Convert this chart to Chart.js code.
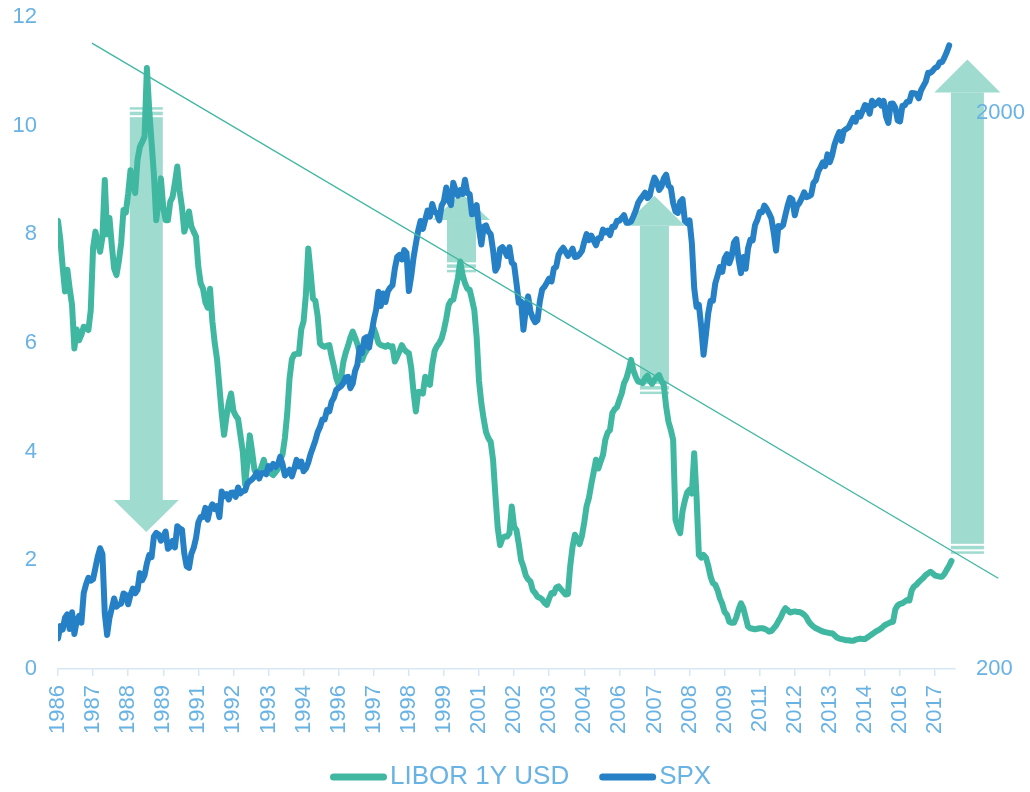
<!DOCTYPE html>
<html lang="en">
<head>
<meta charset="UTF-8">
<title>LIBOR 1Y USD vs SPX</title>
<style>
    html, body { margin: 0; padding: 0; background: #ffffff; }
    #wrap { width: 1030px; height: 792px; }
</style>
<script src="https://cdn.jsdelivr.net/npm/chart.js@4"></script>
</head>
<body>
<div id="wrap"><canvas id="chart" width="1030" height="792"></canvas></div>
<script>
// x axis: one step = one month, a label every 15 months
const tickYears = ['1986', '1987', '1988', '1989', '1991', '1992', '1993', '1994', '1996', '1997',
    '1998', '1999', '2001', '2002', '2003', '2004', '2006', '2007', '2008', '2009',
    '2011', '2012', '2013', '2014', '2016', '2017'];
const tickStep = 15;
const seriesNames = ['LIBOR 1Y USD', 'SPX'];

// LIBOR 1Y USD, %, monthly (left axis)
const liborValues = [
    8.25, 7.9, 7.4, 6.95, 7.35, 7.0, 6.7, 5.9, 6.25, 6.05, 6.15, 6.3,
    6.28, 6.24, 6.6, 7.75, 8.05, 7.85, 7.68, 7.95, 9.0, 8.0, 8.3, 7.8,
    7.37, 7.25, 7.5, 7.84, 8.45, 8.4, 8.75, 9.18, 8.94, 8.76, 9.37, 9.61,
    9.7, 9.8, 11.06, 10.29, 9.7, 9.1, 8.26, 8.6, 9.03, 8.5, 8.26, 8.26,
    8.6, 8.69, 8.95, 9.25, 8.8, 8.5, 8.05, 8.2, 8.42, 8.15, 8.05, 7.96,
    7.4, 7.1, 7.0, 6.75, 6.65, 7.0, 6.4, 6.0, 5.7, 5.2, 4.7, 4.31,
    4.64, 4.9, 5.07, 4.75, 4.66, 4.6, 4.3, 4.0, 3.4, 3.8, 4.3, 4.0,
    3.66, 3.6, 3.62, 3.72, 3.85, 3.66, 3.62, 3.6, 3.57, 3.62, 3.68, 3.85,
    3.95, 4.25, 4.7, 5.35, 5.7, 5.79, 5.8, 5.8, 6.25, 6.4, 6.9, 7.74,
    7.3, 6.82, 6.78, 6.5, 5.99, 5.95, 5.93, 5.95, 5.96, 5.75, 5.56, 5.35,
    5.23, 5.35, 5.65, 5.82, 5.95, 6.1, 6.21, 6.1, 5.98, 5.82, 5.69, 5.8,
    5.87, 6.1, 6.2, 6.27, 6.15, 6.0, 5.96, 5.95, 5.93, 5.96, 5.93, 5.94,
    5.66, 5.75, 5.85, 5.96, 5.88, 5.84, 5.81, 5.55, 5.1, 4.74, 5.1, 5.1,
    5.07, 5.38, 5.26, 5.23, 5.6, 5.85, 5.94, 6.0, 6.08, 6.24, 6.45, 6.7,
    6.78, 6.8, 7.0, 7.2, 7.5, 7.25, 7.1, 7.0, 6.98, 6.8, 6.6, 6.1,
    5.3, 4.89, 4.6, 4.36, 4.25, 4.18, 3.85, 3.2, 2.6, 2.28, 2.4, 2.44,
    2.44, 2.5, 2.99, 2.62, 2.56, 2.3, 2.0, 1.88, 1.72, 1.65, 1.61, 1.45,
    1.4, 1.33, 1.31, 1.28, 1.22, 1.18, 1.3, 1.4, 1.39, 1.5, 1.52, 1.47,
    1.42, 1.37, 1.38, 1.9, 2.25, 2.47, 2.4, 2.3, 2.45, 2.7, 3.0, 3.15,
    3.4, 3.62, 3.85, 3.69, 3.82, 3.94, 4.22, 4.35, 4.4, 4.71, 4.78, 4.82,
    4.95, 5.07, 5.26, 5.35, 5.5, 5.69, 5.5, 5.38, 5.29, 5.28, 5.26, 5.35,
    5.4, 5.3, 5.25, 5.32, 5.37, 5.41, 5.3, 5.23, 4.83, 4.55, 4.4, 4.22,
    2.75, 2.6, 2.5, 2.9, 3.1, 3.25, 3.3, 3.23, 3.97, 3.17, 2.1, 2.05,
    2.1, 2.05, 1.9, 1.7, 1.58, 1.55, 1.45, 1.3, 1.2, 1.05, 1.0, 0.87,
    0.85, 0.85, 0.95, 1.1, 1.21, 1.12, 0.95, 0.78, 0.75, 0.74, 0.73, 0.74,
    0.75, 0.75, 0.74, 0.72, 0.69, 0.7, 0.75, 0.8, 0.88, 0.95, 1.05, 1.12,
    1.08, 1.04, 1.05, 1.06, 1.05, 1.05, 1.03, 1.0, 0.95, 0.87, 0.82, 0.78,
    0.75, 0.73, 0.71, 0.69, 0.68, 0.67, 0.66, 0.66, 0.62, 0.58, 0.56, 0.55,
    0.54, 0.53, 0.53, 0.52, 0.52, 0.54, 0.55, 0.56, 0.55, 0.55, 0.58, 0.61,
    0.64, 0.67, 0.7, 0.72, 0.75, 0.79, 0.82, 0.84, 0.86, 0.87, 1.1, 1.17,
    1.2, 1.21, 1.24, 1.27, 1.26, 1.45, 1.52, 1.55, 1.6, 1.64, 1.68, 1.73,
    1.76, 1.79, 1.76, 1.72, 1.71, 1.7, 1.7, 1.75, 1.83, 1.9, 1.99
];

// SPX, monthly (right log axis)
const spxValues = [
    226.9, 238.9, 235.5, 247.4, 250.8, 236.1, 252.9, 231.3, 244.0, 249.2, 242.2,
    274.1, 284.2, 291.7, 288.4, 290.1, 304.0, 318.7, 329.8, 321.8, 251.8, 230.3, 247.1,
    257.1, 267.8, 258.9, 261.3, 262.2, 273.5, 272.0, 261.5, 271.9, 279.0, 273.7, 277.7,
    297.5, 288.9, 294.9, 309.6, 320.5, 318.0, 346.1, 351.5, 349.2, 340.4, 346.0, 353.4,
    329.1, 331.9, 339.9, 330.8, 361.2, 358.0, 356.2, 322.6, 306.1, 304.0, 322.2, 330.2,
    343.9, 367.1, 375.2, 375.3, 389.8, 371.2, 387.8, 395.4, 387.9, 392.5, 375.2, 417.1,
    408.8, 412.7, 403.7, 415.0, 415.4, 408.1, 424.2, 414.0, 417.8, 418.7, 431.4, 435.7,
    438.8, 443.4, 451.7, 440.2, 450.2, 450.5, 448.1, 463.6, 458.9, 467.8, 461.8, 466.5,
    481.6, 467.1, 445.8, 450.9, 456.5, 444.3, 458.3, 475.5, 462.7, 472.4, 453.7, 459.3,
    470.4, 487.4, 500.7, 514.7, 533.4, 544.8, 562.1, 561.9, 584.4, 581.5, 605.4, 615.9,
    636.0, 640.4, 645.5, 654.2, 669.1, 670.6, 640.0, 652.0, 687.3, 705.3, 757.0, 740.7,
    786.2, 791.0, 757.1, 801.3, 848.3, 885.1, 954.3, 899.5, 947.3, 914.6, 955.4, 970.4,
    980.3, 1049.3, 1101.8, 1111.8, 1090.8, 1133.8, 1120.7, 957.3, 1017.0, 1098.7, 1163.6, 1229.2,
    1279.6, 1238.3, 1286.4, 1335.2, 1301.8, 1372.7, 1328.7, 1320.4, 1282.7, 1362.9, 1389.0, 1469.3,
    1394.5, 1366.4, 1498.6, 1452.4, 1420.6, 1454.6, 1430.8, 1517.7, 1436.5, 1429.4, 1315.2, 1320.3,
    1366.0, 1239.9, 1160.3, 1249.5, 1255.8, 1224.4, 1211.2, 1133.6, 1040.9, 1059.8, 1139.5, 1148.1,
    1130.2, 1106.7, 1147.4, 1076.9, 1067.1, 989.8, 911.6, 916.1, 815.3, 885.8, 936.3, 879.8,
    855.7, 841.2, 848.2, 916.9, 963.6, 974.5, 990.3, 1008.0, 996.0, 1050.7, 1058.2, 1111.9,
    1131.1, 1144.9, 1126.2, 1107.3, 1120.7, 1140.8, 1101.7, 1104.2, 1114.6, 1130.2, 1173.8, 1211.9,
    1181.3, 1203.6, 1180.6, 1156.9, 1191.5, 1191.3, 1234.2, 1220.3, 1228.8, 1207.0, 1249.5, 1248.3,
    1280.1, 1280.7, 1294.9, 1310.6, 1270.1, 1270.2, 1276.7, 1303.8, 1335.9, 1377.9, 1400.6, 1418.3,
    1438.2, 1406.8, 1420.9, 1482.4, 1530.6, 1503.4, 1455.3, 1474.0, 1526.8, 1549.4, 1481.1, 1468.4,
    1378.6, 1330.6, 1322.7, 1385.6, 1400.4, 1280.0, 1267.4, 1282.8, 1166.4, 968.8, 896.2, 903.3,
    825.9, 735.1, 797.9, 872.8, 919.1, 919.3, 987.5, 1020.6, 1057.1, 1036.2, 1095.6, 1115.1,
    1073.9, 1104.5, 1169.4, 1186.7, 1089.4, 1030.7, 1101.6, 1049.3, 1141.2, 1183.3, 1180.6, 1257.6,
    1286.1, 1327.2, 1325.8, 1363.6, 1345.2, 1320.6, 1292.3, 1218.9, 1131.4, 1253.3, 1247.0, 1257.6,
    1312.4, 1365.7, 1408.5, 1397.9, 1310.3, 1362.2, 1379.3, 1406.6, 1440.7, 1412.2, 1416.2, 1426.2,
    1498.1, 1514.7, 1569.2, 1597.6, 1630.7, 1606.3, 1685.7, 1633.0, 1681.6, 1756.5, 1805.8, 1848.4,
    1782.6, 1859.5, 1872.3, 1884.0, 1923.6, 1960.2, 1930.7, 2003.4, 1972.3, 2018.1, 2067.6, 2058.9,
    1995.0, 2104.5, 2067.9, 2085.5, 2107.4, 2063.1, 2103.8, 1972.2, 1920.0, 2079.4, 2080.4, 2043.9,
    1940.2, 1932.2, 2059.7, 2065.3, 2097.0, 2098.9, 2173.6, 2171.0, 2168.3, 2126.2, 2198.8, 2238.8,
    2278.9, 2363.6, 2362.7, 2384.2, 2411.8, 2423.4, 2470.3, 2471.7, 2519.4, 2575.3, 2647.6
];

// annotations, in axis units (month index, left-axis %)
const arrows = [
    { at: 37.75, from: 10.34, to: 2.52, shaft: 33, head: 65, headLen: 32 },
    { at: 172.5, from: 7.30, to: 8.76, shaft: 29, head: 57, headLen: 27 },
    { at: 255.0, from: 5.06, to: 8.71, shaft: 29, head: 61, headLen: 30 },
    { at: 388.8, from: 2.12, to: 11.22, shaft: 33, head: 66, headLen: 33 }
];
const trendStart = [14.5, 11.52];
const trendEnd = [402, 1.67];

const liborColor = '#40b7a1';
const spxColor = '#2580c6';
const arrowColor = '#a0dbd0';
const labelColor = '#68b2e4';
const axisColor = '#d6e8f5';
const fontFamily = '"Liberation Sans", Arial, sans-serif';

function drawArrow(ctx, cx, tail, tip, a) {
    const dir = tip < tail ? -1 : 1;
    const base = tip - dir * a.headLen;
    const band = (p, q) => ctx.fillRect(cx - a.shaft / 2, Math.min(p, q), a.shaft, Math.abs(q - p));
    band(tail, tail + dir * 2.5);
    band(tail + dir * 4.5, tail + dir * 8);
    band(tail + dir * 10, base);
    ctx.beginPath();
    ctx.moveTo(cx - a.head / 2, base);
    ctx.lineTo(cx + a.head / 2, base);
    ctx.lineTo(cx, tip);
    ctx.closePath();
    ctx.fill();
}

const annotations = {
    id: 'annotations',
    // arrows go under the axis labels and the lines
    beforeDraw(chart) {
        const { ctx, scales: { x, y } } = chart;
        ctx.save();
        ctx.fillStyle = arrowColor;
        arrows.forEach(a => {
            drawArrow(ctx, x.getPixelForValue(a.at), y.getPixelForValue(a.from), y.getPixelForValue(a.to), a);
        });
        ctx.restore();
    },
    afterDatasetsDraw(chart) {
        const { ctx, scales: { x, y } } = chart;
        ctx.save();
        ctx.strokeStyle = liborColor;
        ctx.lineWidth = 1.3;
        ctx.beginPath();
        ctx.moveTo(x.getPixelForValue(trendStart[0]), y.getPixelForValue(trendStart[1]));
        ctx.lineTo(x.getPixelForValue(trendEnd[0]), y.getPixelForValue(trendEnd[1]));
        ctx.stroke();
        ctx.restore();
    }
};

// legend drawn by hand so the sample/text spacing matches
const bottomLegend = {
    id: 'bottomLegend',
    afterDraw(chart) {
        const ctx = chart.ctx;
        const yMid = 777;
        let left = 333.5;
        ctx.save();
        ctx.font = '26px ' + fontFamily;
        ctx.textBaseline = 'middle';
        ctx.lineCap = 'round';
        ctx.lineWidth = 7;
        [liborColor, spxColor].forEach((color, i) => {
            ctx.strokeStyle = color;
            ctx.beginPath();
            ctx.moveTo(left, yMid);
            ctx.lineTo(left + 50, yMid);
            ctx.stroke();
            ctx.fillStyle = labelColor;
            ctx.fillText(seriesNames[i], left + 56.5, yMid);
            left += 56.5 + ctx.measureText(seriesNames[i]).width + 33.5;
        });
        ctx.restore();
    }
};

new Chart(document.getElementById('chart'), {
    type: 'line',
    data: {
        datasets: [{
            label: seriesNames[1],
            data: spxValues.map((v, i) => ({ x: i, y: v })),
            yAxisID: 'y2',
            borderColor: spxColor,
            borderWidth: 6,
            borderJoinStyle: 'round',
            borderCapStyle: 'round',
            pointRadius: 0,
            tension: 0
        }, {
            label: seriesNames[0],
            data: liborValues.map((v, i) => ({ x: i, y: v })),
            yAxisID: 'y',
            borderColor: liborColor,
            borderWidth: 6,
            borderJoinStyle: 'round',
            borderCapStyle: 'round',
            pointRadius: 0,
            tension: 0
        }]
    },
    options: {
        responsive: false,
        animation: false,
        devicePixelRatio: 1,
        layout: { padding: { top: 17, left: 0, right: 0, bottom: 0 } },
        plugins: {
            legend: { display: false },
            tooltip: { enabled: false }
        },
        scales: {
            x: {
                type: 'linear',
                min: 0,
                max: 383.5,
                afterBuildTicks: s => { s.ticks = tickYears.map((_, i) => ({ value: i * tickStep })); },
                afterFit: s => { s.height = 123; },
                ticks: {
                    autoSkip: false,
                    maxRotation: 90,
                    minRotation: 90,
                    padding: 9,
                    color: labelColor,
                    font: { family: fontFamily, size: 22 },
                    callback: (v, i) => tickYears[i]
                },
                grid: { drawOnChartArea: false, drawTicks: true, tickLength: 7, color: axisColor, lineWidth: 1.5 },
                border: { color: axisColor, width: 1.5 }
            },
            y: {
                position: 'left',
                min: 0,
                max: 12,
                afterFit: s => { s.width = 58; },
                ticks: {
                    stepSize: 2,
                    padding: 0,
                    color: labelColor,
                    font: { family: fontFamily, size: 22 }
                },
                // hidden tick marks only push the labels away from the plot
                grid: { display: false, drawTicks: true, tickLength: 21 },
                border: { display: false }
            },
            y2: {
                type: 'logarithmic',
                position: 'right',
                min: 200,
                max: 2978,
                afterBuildTicks: s => { s.ticks = [{ value: 200 }, { value: 2000 }]; },
                afterFit: s => { s.width = 75; },
                ticks: {
                    padding: 0,
                    color: labelColor,
                    font: { family: fontFamily, size: 22 },
                    callback: v => String(v)
                },
                grid: { display: false, drawTicks: true, tickLength: 21 },
                border: { display: false }
            }
        }
    },
    plugins: [annotations, bottomLegend]
});
</script>
</body>
</html>
